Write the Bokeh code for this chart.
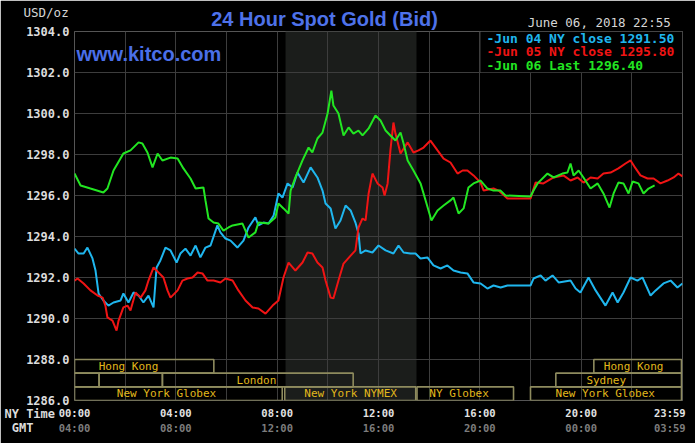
from bokeh.plotting import figure
from bokeh.models import (FixedTicker, NumeralTickFormatter, LinearAxis, BoxAnnotation,
                          Label, ColumnDataSource, Range1d)
from bokeh.core.properties import value
from bokeh.embed import file_html
from bokeh.resources import INLINE

# ---------------- data (hours since 00:00 NY time, price USD/oz) ----------------
jun04 = [(0, 1293.41), (0.16, 1293.17), (0.36, 1293.17), (0.51, 1293.46), (0.71, 1292.93),
         (0.83, 1292.34), (0.95, 1291.22), (1.14, 1290.88), (1.34, 1290.63), (1.54, 1290.78),
         (1.82, 1290.88), (1.93, 1291.22), (2.13, 1290.78), (2.33, 1291.27), (2.53, 1291.12),
         (2.72, 1290.78), (2.92, 1291.12), (3.12, 1290.54), (3.24, 1292.49), (3.39, 1292.83),
         (3.59, 1293.46), (3.79, 1293.32), (4.03, 1292.73), (4.18, 1293.17), (4.38, 1293.41),
         (4.58, 1293.07), (4.78, 1293.56), (4.97, 1292.98), (5.17, 1293.46), (5.37, 1293.56),
         (5.64, 1294.54), (5.76, 1294.20), (5.96, 1293.90), (6.16, 1293.80), (6.43, 1293.46),
         (6.67, 1293.80), (6.87, 1294.44), (7.14, 1294.93), (7.26, 1294.54), (7.46, 1294.68),
         (7.66, 1294.63), (7.86, 1295.02), (8.05, 1296.10), (8.21, 1295.90), (8.41, 1296.59),
         (8.61, 1296.39), (8.80, 1297.12), (9.04, 1296.63), (9.32, 1297.37), (9.59, 1296.88),
         (9.79, 1296.24), (9.91, 1295.61), (10.11, 1295.37), (10.30, 1294.39), (10.50, 1294.78),
         (10.70, 1295.51), (10.90, 1295.27), (11.09, 1294.68), (11.21, 1294.15), (11.29, 1293.17),
         (11.49, 1293.32), (11.76, 1293.22), (12.00, 1293.56), (12.28, 1293.32), (12.59, 1293.17),
         (12.79, 1293.56), (12.99, 1293.22), (13.26, 1293.17), (13.46, 1293.17), (13.66, 1292.93),
         (13.93, 1292.98), (14.17, 1292.59), (14.45, 1292.44), (14.72, 1292.59), (14.96, 1292.34),
         (15.24, 1292.24), (15.51, 1292.20), (15.75, 1291.76), (16.03, 1291.71), (16.30, 1291.46),
         (16.54, 1291.61), (16.82, 1291.51), (17.09, 1291.61), (18.00, 1291.61), (18.12, 1291.95),
         (18.40, 1292.10), (18.59, 1291.85), (18.87, 1292.10), (19.11, 1291.76), (19.58, 1291.85),
         (19.78, 1291.46), (19.97, 1291.27), (20.29, 1292.00), (20.57, 1291.37), (20.96, 1290.63),
         (21.24, 1291.27), (21.44, 1290.78), (21.67, 1291.27), (21.95, 1292.00), (22.22, 1291.85),
         (22.42, 1292.00), (22.74, 1291.12), (22.94, 1291.37), (23.25, 1291.71), (23.53, 1291.85),
         (23.80, 1291.51), (24.0, 1291.71)]

jun05 = [(0, 1291.85), (0.12, 1291.95), (0.36, 1291.71), (0.63, 1291.37), (0.91, 1291.12),
         (1.11, 1291.02), (1.22, 1290.63), (1.30, 1290.05), (1.50, 1289.90), (1.66, 1289.41),
         (1.74, 1289.90), (1.93, 1290.54), (2.09, 1290.63), (2.21, 1290.39), (2.41, 1291.27),
         (2.61, 1291.02), (2.80, 1291.37), (2.92, 1291.85), (3.12, 1292.49), (3.32, 1292.24),
         (3.51, 1292.00), (3.67, 1291.37), (3.79, 1291.02), (4.07, 1291.37), (4.26, 1291.85),
         (4.46, 1291.95), (4.66, 1292.00), (4.86, 1292.24), (5.05, 1292.20), (5.25, 1291.85),
         (5.49, 1291.85), (5.76, 1291.76), (5.96, 1291.95), (6.24, 1291.85), (6.47, 1291.37),
         (6.75, 1290.88), (7.03, 1290.54), (7.26, 1290.49), (7.54, 1290.24), (7.82, 1290.63),
         (8.05, 1290.88), (8.25, 1292.00), (8.45, 1292.73), (8.72, 1292.34), (9.00, 1292.73),
         (9.20, 1293.22), (9.39, 1293.17), (9.59, 1292.73), (9.79, 1292.49), (9.91, 1291.85),
         (10.11, 1291.02), (10.22, 1290.98), (10.42, 1291.85), (10.62, 1292.68), (10.90, 1293.07),
         (11.09, 1293.32), (11.21, 1294.44), (11.37, 1294.88), (11.49, 1294.78), (11.61, 1296.10),
         (11.76, 1297.07), (11.96, 1296.59), (12.16, 1296.39), (12.24, 1296.00), (12.36, 1296.59),
         (12.47, 1298.20), (12.59, 1299.56), (12.67, 1299.02), (12.87, 1298.05), (13.15, 1298.59),
         (13.38, 1298.10), (13.58, 1298.20), (13.78, 1298.34), (14.05, 1298.68), (14.33, 1298.20),
         (14.57, 1297.80), (14.84, 1297.61), (15.12, 1297.07), (15.32, 1297.22), (15.51, 1297.22),
         (15.75, 1296.98), (16.03, 1296.63), (16.15, 1296.24), (16.54, 1296.34), (16.74, 1296.24),
         (17.09, 1295.85), (18.00, 1295.85), (18.20, 1296.63), (18.51, 1296.59), (18.91, 1296.88),
         (19.30, 1296.98), (19.58, 1296.73), (19.86, 1296.88), (20.09, 1296.63), (20.37, 1296.88),
         (20.65, 1296.83), (20.88, 1297.07), (21.16, 1297.12), (21.47, 1297.32), (21.75, 1297.56),
         (21.95, 1297.71), (22.15, 1297.32), (22.34, 1296.98), (22.62, 1296.83), (22.86, 1296.83),
         (23.13, 1296.59), (23.41, 1296.73), (23.65, 1296.88), (23.84, 1297.07), (24.0, 1296.93)]

jun06 = [(0, 1297.07), (0.24, 1296.49), (0.63, 1296.34), (1.14, 1296.15), (1.30, 1296.34),
         (1.54, 1297.22), (1.93, 1298.05), (2.21, 1298.20), (2.53, 1298.59), (2.68, 1298.54),
         (2.88, 1298.10), (3.08, 1297.37), (3.28, 1298.05), (3.47, 1297.71), (3.79, 1297.85),
         (4.07, 1297.80), (4.30, 1297.32), (4.58, 1296.83), (4.78, 1296.34), (5.09, 1296.39),
         (5.17, 1295.76), (5.29, 1294.88), (5.49, 1294.68), (5.68, 1294.63), (5.88, 1294.29),
         (6.08, 1294.44), (6.24, 1294.54), (6.63, 1294.63), (6.75, 1294.29), (6.87, 1293.95),
         (7.14, 1294.20), (7.26, 1294.68), (7.66, 1294.63), (7.93, 1294.93), (8.05, 1295.61),
         (8.25, 1295.37), (8.45, 1295.12), (8.53, 1296.24), (8.72, 1296.88), (9.00, 1297.71),
         (9.24, 1298.34), (9.39, 1298.10), (9.59, 1298.78), (9.79, 1299.07), (9.99, 1300.00),
         (10.14, 1301.12), (10.22, 1300.39), (10.42, 1300.00), (10.62, 1298.93), (10.82, 1299.32),
         (11.01, 1299.02), (11.21, 1299.17), (11.37, 1298.93), (11.61, 1299.27), (11.88, 1299.90),
         (12.08, 1299.66), (12.28, 1299.17), (12.47, 1298.93), (12.67, 1298.68), (12.87, 1299.07),
         (12.99, 1298.54), (13.15, 1297.71), (13.38, 1297.22), (13.66, 1296.59), (13.86, 1295.76),
         (14.09, 1294.78), (14.33, 1295.27), (14.57, 1295.51), (14.84, 1295.76), (14.96, 1295.90),
         (15.16, 1295.12), (15.36, 1295.37), (15.55, 1296.39), (15.75, 1296.59), (16.03, 1296.73),
         (16.30, 1296.34), (16.54, 1296.24), (16.82, 1296.24), (17.01, 1296.00), (18.00, 1295.95),
         (18.12, 1296.24), (18.28, 1296.59), (18.67, 1297.07), (18.91, 1296.88), (19.26, 1297.07),
         (19.46, 1297.12), (19.58, 1297.56), (19.70, 1296.98), (19.90, 1297.22), (20.09, 1296.88),
         (20.37, 1296.34), (20.65, 1296.59), (20.88, 1296.10), (21.12, 1295.41), (21.28, 1296.10),
         (21.47, 1296.63), (21.67, 1296.59), (21.87, 1296.10), (22.03, 1296.68), (22.26, 1296.59),
         (22.46, 1296.10), (22.66, 1296.34), (22.90, 1296.49)]

legend_labels = ["Jun 04 NY close 1291.50", "Jun 05 NY close 1295.80", "Jun 06 Last 1296.40"]
title_text = "24 Hour Spot Gold (Bid)"
date_text = "June 06, 2018 22:55"
unit_text = "USD/oz"
site_text = "www.kitco.com"

y_ticks = [1286, 1288, 1290, 1292, 1294, 1296, 1298, 1300, 1302, 1304]
x_grid_hours = [0, 2, 4, 6, 8, 10, 12, 14, 16, 18, 20, 22, 24]
x_tick_hours = [0, 4, 8, 12, 16, 20, 23.5]
ny_labels = ["00:00", "04:00", "08:00", "12:00", "16:00", "20:00", "23:59"]
gmt_labels = ["04:00", "08:00", "12:00", "16:00", "20:00", "00:00", "03:59"]

nymex_open, nymex_close = 8.33, 13.5

sess_row = [0, 0, 1, 1, 1, 1, 2, 2, 2, 2]
sess_name = ["Hong Kong", "Hong Kong", "", "", "London", "Sydney",
             "New York Globex", "New York NYMEX", "NY Globex", "New York Globex"]
sess_start = [0, 20.5, 0, 0.97, 3.47, 19.0, 0, 8.3, 13.52, 18.0]
sess_end = [5.5, 23.96, 0.97, 3.47, 11.0, 23.96, 8.2, 13.47, 17.33, 23.96]
sess_label_at = [2.13, 22.07, 0.5, 2.2, 7.18, 20.99, 3.63, 10.9, 15.18, 20.95]

BLUE, RED, GREEN = "#1fb6ee", "#f01414", "#22e622"
BG = "#000000"
LABEL_GRAY = "#dcdcdc"
MONO = "DejaVu Sans Mono"
NB = "\u00a0"

# ---------------- figure ----------------
p = figure(width=695, height=443, x_range=Range1d(0, 24), y_range=Range1d(1286, 1304),
           output_backend="svg", toolbar_location=None,
           min_border_left=74, min_border_right=13, min_border_top=31, min_border_bottom=43,
           background_fill_color=BG, border_fill_color=BG)
p.outline_line_color = "#555555"
p.outline_line_width = 1

# NYMEX shading (below grid)
p.add_layout(BoxAnnotation(left=nymex_open, right=nymex_close, fill_color="#1b1d1b",
                           fill_alpha=1, line_color=None, level="image"))

# grids
p.xgrid.ticker = FixedTicker(ticks=x_grid_hours)
p.ygrid.ticker = FixedTicker(ticks=y_ticks)
for g in (p.xgrid, p.ygrid):
    g.grid_line_color = "#3d3d3d"
    g.grid_line_width = 1


def bare(ax):
    ax.axis_line_color = None
    ax.major_tick_line_color = None
    ax.minor_tick_line_color = None
    ax.major_tick_out = 0
    ax.major_tick_in = 0


# y axis (time-row captions hang under the bottom tick label)
ya = p.yaxis[0]
bare(ya)
ya.ticker = FixedTicker(ticks=y_ticks)
ya.formatter = NumeralTickFormatter(format="0.0")
ya.major_label_overrides = {
    y_ticks[0]: f"{NB}\n{NB}\n{y_ticks[0]:.1f}\nNY Time{NB * 2}\nGMT{NB * 5}",
}
ya.major_label_standoff = 5
ya.major_label_text_font = MONO
ya.major_label_text_font_style = "bold"
ya.major_label_text_font_size = "12px"
ya.major_label_text_line_height = 0.98
ya.major_label_text_color = LABEL_GRAY


# x axes (NY time, GMT)
def style_x(ax, labels, color, standoff):
    bare(ax)
    ax.ticker = FixedTicker(ticks=x_tick_hours)
    ax.major_label_overrides = {t: l for t, l in zip(x_tick_hours, labels)}
    ax.major_label_standoff = standoff
    ax.major_label_text_font = MONO
    ax.major_label_text_font_style = "bold"
    ax.major_label_text_font_size = "10.5px"
    ax.major_label_text_color = color


style_x(p.xaxis[0], ny_labels, "#e2e2e2", 6)
gmt_axis = LinearAxis()
style_x(gmt_axis, gmt_labels, "#7c7c7c", 0)
p.add_layout(gmt_axis, "below")

# title: an axis above the frame with a single labelled tick
title_at = 9.87
title_axis = LinearAxis(ticker=FixedTicker(ticks=[title_at]),
                        major_label_overrides={title_at: title_text})
bare(title_axis)
title_axis.major_label_standoff = 2
title_axis.major_label_text_font = "Liberation Sans"
title_axis.major_label_text_font_style = "bold"
title_axis.major_label_text_font_size = "20px"
title_axis.major_label_text_color = "#4e72ea"
p.add_layout(title_axis, "above")

# unit + timestamp header row: a right-hand axis whose (left-aligned) label is
# pulled back across the top edge of the frame
header = f"{unit_text}\n{NB * 67}{date_text}\n{NB}\n{NB}\n{NB}"
head_axis = LinearAxis(ticker=FixedTicker(ticks=[y_ticks[-1]]),
                       major_label_overrides={y_ticks[-1]: header})
bare(head_axis)
head_axis.major_label_standoff = -659
head_axis.major_label_text_font = MONO
head_axis.major_label_text_font_size = "12.5px"
head_axis.major_label_text_line_height = 0.62
head_axis.major_label_text_color = "#d6d6d6"
p.add_layout(head_axis, "right")

# session bars
row_h = 2.0 / 3.0
sess = ColumnDataSource(dict(
    left=sess_start, right=sess_end,
    top=[1288 - r * row_h for r in sess_row],
    bottom=[1288 - (r + 1) * row_h for r in sess_row],
    name=sess_name, lx=sess_label_at,
    ly=[1288 - (r + 0.5) * row_h for r in sess_row]))
p.quad(left="left", right="right", top="top", bottom="bottom", source=sess,
       fill_alpha=0, line_color="#8e8b5e", line_width=1.6)
p.text(x="lx", y="ly", text="name", source=sess, text_font=value(MONO),
       text_font_size="11px", text_color="#e2b81c", text_align="center",
       text_baseline="middle")

# price lines
for series, col in ((jun04, BLUE), (jun05, RED), (jun06, GREEN)):
    p.line([h for h, _ in series], [v for _, v in series], line_color=col, line_width=2)

# ---------------- texts inside the frame ----------------
FL, FB = 74, 400  # frame left / bottom in canvas pixels


def lab(text, cx, cy, **kw):
    p.add_layout(Label(x=cx - FL, y=FB - cy, x_units="screen", y_units="screen",
                       text=text, text_baseline="middle", **kw))


lab(site_text, 76, 53, text_align="left", text_font="Liberation Sans",
    text_font_style="bold", text_font_size="20px", text_color="#4a6fe8")

# legend box
p.add_layout(BoxAnnotation(left=480 - FL, right=682 - FL, top=FB - 31, bottom=FB - 72,
                           left_units="screen", right_units="screen",
                           top_units="screen", bottom_units="screen",
                           fill_color=BG, fill_alpha=1, line_color="#6a6a6a", line_width=1))
for i, (txt, col) in enumerate(zip(legend_labels, (BLUE, RED, GREEN))):
    lab("-" + txt, 486, 37.5 + i * 13.5, text_align="left", text_font=MONO,
        text_font_style="bold", text_font_size="13px", text_color=col)

open("out.html", "w").write(file_html(p, INLINE))
